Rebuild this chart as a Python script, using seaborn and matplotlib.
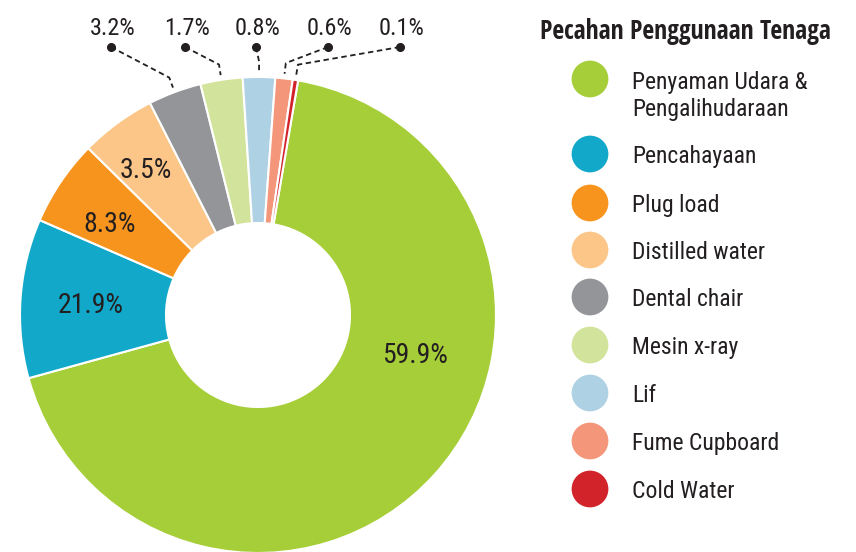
import numpy as np
import matplotlib
matplotlib.use("Agg")
import matplotlib.pyplot as plt
from matplotlib import font_manager
from matplotlib.font_manager import FontProperties
import seaborn as sns

# kategori (susunan legenda)
kategori = ["Penyaman Udara &\nPengalihudaraan", "Pencahayaan", "Plug load", "Distilled water",
            "Dental chair", "Mesin x-ray", "Lif", "Fume Cupboard", "Cold Water"]
# saiz hirisan seperti yang dilukis (sudut, dalam %)
saiz_hirisan = [68.0, 10.8, 5.83, 5.14, 3.61, 2.86, 2.19, 1.17, 0.36]
# teks peratus yang tertulis pada carta
label_peratus = ["59.9%", "21.9%", "8.3%", "3.5%", "3.2%", "1.7%", "0.8%", "0.6%", "0.1%"]
warna = ["#A6CE39", "#12A8C9", "#F7941E", "#FBC688", "#939598",
         "#D2E39B", "#AED2E3", "#F4967A", "#D2232A"]
tajuk = "Pecahan Penggunaan Tenaga"

sns.set_theme(style="white")
plt.rcParams['font.family'] = ['DejaVu Sans']


def cari_font(bold):
    # cari fon sempit (condensed/narrow) yang terpasang
    pilihan = []
    for f in font_manager.fontManager.ttflist:
        nm = (f.fname + " " + f.name).lower()
        sempit = ("condensed" in nm or "narrow" in nm or
                  str(f.stretch) in ("condensed", "semi-condensed", "extra-condensed"))
        if not sempit or f.style != "normal":
            continue
        w = f.weight if isinstance(f.weight, int) else (700 if "bold" in str(f.weight) else 400)
        if "semi" in nm or "extra" in nm or "light" in nm or "black" in nm or "medium" in nm:
            continue
        if bold != (w >= 600):
            continue
        rank = 9
        for i, fam in enumerate(["liberation", "noto sans", "open sans", "roboto", "dejavu"]):
            if fam in nm:
                rank = i
                break
        pilihan.append((rank, f.fname))
    pilihan.sort()
    return pilihan[0][1] if pilihan else None


f_reg = cari_font(False)
f_bold = cari_font(True)


def fp(size, bold=False):
    path = f_bold if bold else f_reg
    if path:
        return FontProperties(fname=path, size=size)
    return FontProperties(family="DejaVu Sans", size=size * 0.85,
                          weight="bold" if bold else "normal", stretch="condensed")


TEKS = "#231F20"
W, H = 856, 552
CX, CY, R = 258, 315, 238
palet = sns.color_palette(warna)

fig = plt.figure(figsize=(W / 100, H / 100), dpi=100)
ax = fig.add_axes([0, 0, 1, 1])


def px(x, y):
    # piksel (dari atas-kiri) ke koordinat data
    return ((x - CX) / R, (CY - y) / R)


wedges, _ = ax.pie(saiz_hirisan, colors=palet, startangle=80.3, counterclock=False,
                   radius=1, wedgeprops=dict(width=1 - 92 / R, edgecolor="white", linewidth=1.5))
ax.set_xlim(-CX / R, (W - CX) / R)
ax.set_ylim(-(H - CY) / R, CY / R)
ax.set_aspect("equal")
ax.axis("off")

# label di dalam hirisan besar
pos_dalam = [(415, 353), (91, 303), (110, 222), (146, 168)]
for teks, (x, y) in zip(label_peratus[:4], pos_dalam):
    ax.text(*px(x, y + 10), teks, ha="center", va="baseline", fontproperties=fp(20), color=TEKS)

# label di atas dengan garis putus-putus
pos_atas = [113, 187, 258, 330, 402]
for w, teks, lx in zip(wedges[4:], label_peratus[4:], pos_atas):
    th = np.deg2rad((w.theta1 + w.theta2) / 2)
    p1 = (1.02 * np.cos(th), 1.02 * np.sin(th))
    p2 = (1.065 * np.cos(th), 1.065 * np.sin(th))
    dot = px(lx - 2, 47)
    ax.plot([dot[0], p2[0], p1[0]], [dot[1], p2[1], p1[1]], color=TEKS, lw=1.3,
            ls=(0, (3, 2)), clip_on=False)
    ax.plot(*dot, "o", color=TEKS, ms=5.5, clip_on=False)
    ax.text(*px(lx, 35), teks, ha="center", va="baseline", fontproperties=fp(17.5), color=TEKS)

# legenda
ax.text(*px(540, 39), tajuk, ha="left", va="baseline", fontproperties=fp(18.5, True), color=TEKS)
baris_y = [79, 154, 203, 250, 297, 345, 393, 441, 489]
for nama, c, y in zip(kategori, palet, baris_y):
    ax.scatter(*px(590, y), s=700, color=c, edgecolor="none", clip_on=False)
    for k, baris in enumerate(nama.split("\n")):
        yb = y + 10 + k * 27 if "\n" in nama else y + 8.7
        ax.text(*px(632, yb), baris, ha="left", va="baseline", fontproperties=fp(17), color=TEKS)

fig.savefig("out.png", dpi=100)
